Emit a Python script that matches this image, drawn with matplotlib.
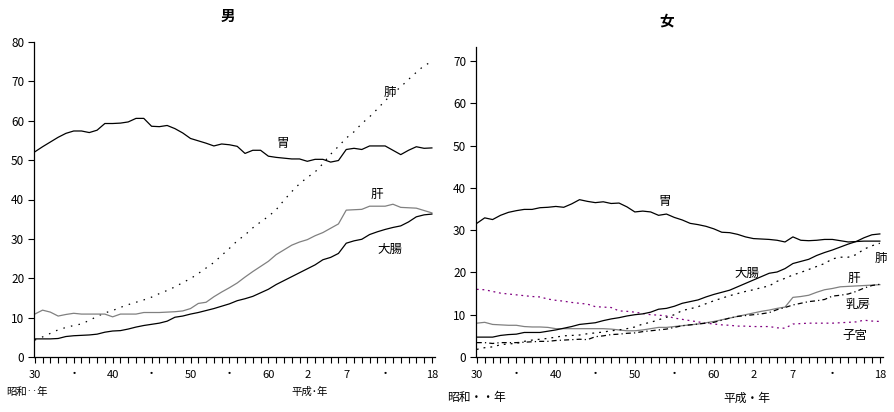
import matplotlib
matplotlib.use("Agg")
import matplotlib.pyplot as plt

plt.rcParams['font.family'] = ['Noto Sans CJK JP', 'DejaVu Sans']

years = list(range(1955, 2007))

# 男
m_stomach = [52.1, 53.4, 54.6, 55.8, 56.8, 57.4, 57.4, 57.0, 57.6, 59.3,
             59.3, 59.4, 59.7, 60.6, 60.6, 58.6, 58.5, 58.8, 58.0, 56.9,
             55.5, 54.9, 54.3, 53.6, 54.1, 53.9, 53.5, 51.7, 52.5, 52.5,
             51.0, 50.7, 50.5, 50.3, 50.3, 49.7, 50.2, 50.2, 49.5, 49.9,
             52.7, 53.0, 52.7, 53.6, 53.6, 53.6, 52.5, 51.4, 52.5, 53.4,
             53.0, 53.1]
m_lung = [4.3, 5.1, 6.0, 6.9, 7.5, 8.0, 8.4, 9.3, 10.3, 11.2,
          11.8, 12.6, 13.3, 13.9, 14.5, 15.2, 16.1, 16.9, 17.8, 18.9,
          19.9, 21.2, 22.6, 24.0, 25.8, 27.6, 29.5, 31.0, 32.8, 34.3,
          35.7, 37.4, 39.8, 42.0, 44.0, 45.6, 47.0, 49.1, 51.5, 53.5,
          55.6, 57.2, 59.3, 61.0, 63.0, 65.1, 66.9, 68.6, 70.5, 72.3,
          74.0, 75.0]
m_liver = [10.9, 11.9, 11.4, 10.4, 10.8, 11.1, 10.9, 10.9, 10.9, 10.9,
           10.2, 10.9, 10.9, 10.9, 11.3, 11.3, 11.3, 11.4, 11.5, 11.7,
           12.3, 13.6, 13.9, 15.3, 16.5, 17.6, 18.8, 20.3, 21.7, 23.0,
           24.3, 26.0, 27.2, 28.4, 29.2, 29.8, 30.8, 31.6, 32.7, 33.8,
           37.3, 37.4, 37.5, 38.3, 38.3, 38.3, 38.8, 38.0, 37.9, 37.8,
           37.2, 36.6]
m_colon = [4.6, 4.6, 4.6, 4.7, 5.2, 5.4, 5.5, 5.6, 5.8, 6.3,
           6.6, 6.7, 7.1, 7.6, 8.0, 8.3, 8.6, 9.1, 10.1, 10.4,
           10.9, 11.3, 11.8, 12.3, 12.9, 13.5, 14.3, 14.8, 15.4, 16.3,
           17.2, 18.4, 19.4, 20.4, 21.4, 22.4, 23.4, 24.7, 25.3, 26.3,
           28.9, 29.5, 29.9, 31.1, 31.8, 32.4, 32.9, 33.3, 34.3, 35.6,
           36.1, 36.3]

# 女
f_stomach = [31.6, 32.9, 32.5, 33.5, 34.2, 34.6, 34.9, 34.9, 35.3, 35.4,
             35.6, 35.4, 36.2, 37.2, 36.8, 36.5, 36.7, 36.3, 36.4, 35.5,
             34.3, 34.5, 34.3, 33.5, 33.8, 33.0, 32.4, 31.6, 31.3, 30.9,
             30.3, 29.5, 29.4, 29.0, 28.4, 28.0, 27.9, 27.8, 27.6, 27.2,
             28.4, 27.6, 27.5, 27.6, 27.8, 27.8, 27.5, 27.2, 27.3, 27.4,
             27.4, 27.4]
f_uterus = [16.0, 15.9, 15.5, 15.1, 14.9, 14.7, 14.5, 14.3, 14.2, 13.7,
            13.4, 13.2, 12.9, 12.7, 12.5, 11.9, 11.8, 11.7, 10.9, 10.8,
            10.6, 10.3, 10.0, 9.9, 9.7, 9.2, 8.9, 8.6, 8.3, 8.0,
            7.8, 7.6, 7.5, 7.3, 7.3, 7.2, 7.2, 7.2, 6.9, 6.8,
            7.8, 7.9, 8.0, 8.0, 8.0, 8.0, 8.1, 8.2, 8.3, 8.7,
            8.5, 8.4]
f_liver = [8.0, 8.2, 7.7, 7.6, 7.5, 7.5, 7.2, 7.1, 7.1, 7.0,
           6.7, 6.7, 6.7, 6.7, 6.7, 6.7, 6.7, 6.6, 6.4, 6.2,
           6.2, 6.4, 6.7, 7.0, 7.0, 7.2, 7.4, 7.6, 7.8, 8.1,
           8.4, 8.8, 9.2, 9.6, 10.0, 10.4, 10.8, 11.1, 11.5, 11.8,
           14.1, 14.3, 14.6, 15.3, 15.9, 16.2, 16.6, 16.7, 16.8, 16.9,
           17.0, 17.1]
f_colon = [4.7, 4.7, 4.7, 5.1, 5.3, 5.4, 5.8, 5.8, 5.8, 6.1,
           6.4, 6.8, 7.2, 7.7, 7.9, 8.1, 8.6, 9.0, 9.3, 9.7,
           10.0, 10.2, 10.6, 11.3, 11.5, 12.0, 12.7, 13.1, 13.5, 14.2,
           14.8, 15.3, 15.8, 16.6, 17.4, 18.2, 19.0, 19.8, 20.1, 20.9,
           22.1, 22.6, 23.1, 24.0, 24.7, 25.3, 26.0, 26.7, 27.3, 28.2,
           28.9, 29.1]
f_lung = [1.8, 2.2, 2.4, 2.9, 3.1, 3.2, 3.7, 4.0, 4.2, 4.4,
          4.7, 5.0, 5.1, 5.2, 5.5, 5.7, 5.9, 6.2, 6.4, 6.7,
          7.1, 7.8, 8.2, 8.8, 9.4, 10.0, 11.0, 11.4, 11.9, 12.6,
          13.3, 13.9, 14.5, 15.0, 15.5, 15.9, 16.4, 16.8, 17.9, 18.6,
          19.4, 20.0, 20.7, 21.4, 22.1, 23.2, 23.6, 23.6, 24.2, 25.5,
          26.3, 26.9]
f_breast = [3.4, 3.4, 3.2, 3.4, 3.4, 3.4, 3.5, 3.6, 3.7, 3.7,
            3.9, 4.0, 4.1, 4.2, 4.1, 4.8, 5.0, 5.3, 5.4, 5.6,
            5.7, 6.0, 6.2, 6.4, 6.6, 7.0, 7.4, 7.6, 7.8, 8.0,
            8.2, 8.7, 9.2, 9.6, 9.8, 10.0, 10.2, 10.5, 11.2, 11.7,
            12.3, 12.7, 13.1, 13.3, 13.6, 14.4, 14.6, 14.9, 15.5, 16.3,
            16.9, 17.2]

tick_years = [1955, 1960, 1965, 1970, 1975, 1980, 1985, 1990, 1995, 2000, 2006]
tick_labels = ['30', '・', '40', '・', '50', '・', '60', '2', '7', '・', '18']

fig = plt.figure(figsize=(8.94, 4.12), dpi=100)
W, H = 894, 412

def make_ax(x0, x1, ytop, ymax, yticks):
    ax = fig.add_axes([x0 / W, (H - 357) / H, (x1 - x0) / W, (357 - ytop) / H])
    ax.set_xlim(1954.9, 2006.4)
    ax.set_ylim(0, ymax)
    for s in ['top', 'right']:
        ax.spines[s].set_visible(False)
    for s in ['left', 'bottom']:
        ax.spines[s].set_linewidth(0.9)
    ax.set_xticks(years, minor=True)
    ax.set_xticks(tick_years)
    ax.set_xticklabels(tick_labels, fontsize=8)
    ax.tick_params(axis='x', which='both', direction='out', length=4, width=0.8, pad=5)
    ax.set_yticks(yticks)
    ax.tick_params(axis='y', direction='out', length=4, width=0.8, pad=3, labelsize=8.5)
    return ax

lw = 0.9
# Male
ax1 = make_ax(34, 435, 42, 80, list(range(0, 81, 10)))
ax1.plot(years, m_stomach, color='black', lw=lw)
ax1.plot(years, m_lung, color='black', lw=lw, linestyle=(0, (1.2, 5)))
ax1.plot(years, m_liver, color='#808080', lw=lw)
ax1.plot(years, m_colon, color='black', lw=lw)

fs = 9
ax1.text(2027 - 2027 + 1983.5, 0, '')
def lab(ax, x, y, s):
    fig.text(x / W, 1 - y / H, s, fontsize=fs, ha='center', va='center')

lab(ax1, 283, 143, '胃')
lab(ax1, 390, 92, '肺')
lab(ax1, 377, 194, '肝')
lab(ax1, 390, 249, '大腸')

# Female
ax2 = make_ax(476, 883, 47, 73.3, list(range(0, 71, 10)))
ax2.plot(years, f_stomach, color='black', lw=lw)
ax2.plot(years, f_uterus, color='#800080', lw=lw, linestyle=(0, (1.5, 3)))
ax2.plot(years, f_liver, color='#808080', lw=lw)
ax2.plot(years, f_colon, color='black', lw=lw)
ax2.plot(years, f_lung, color='black', lw=lw, linestyle=(0, (1.5, 4)))
ax2.plot(years, f_breast, color='black', lw=lw, linestyle=(0, (4, 2.5, 1, 2.5)))

lab(ax2, 665, 201, '胃')
lab(ax2, 747, 273, '大腸')
lab(ax2, 881, 258, '肺')
lab(ax2, 854, 278, '肝')
lab(ax2, 858, 304, '乳房')
lab(ax2, 855, 336, '子宮')

fig.text(228 / W, 1 - 16 / H, '男', fontsize=10.5, fontweight='bold', ha='center', va='center')
fig.text(667 / W, 1 - 20 / H, '女', fontsize=10.5, fontweight='bold', ha='center', va='center')

fig.text(6 / W, 1 - 392 / H, '昭和‥年', fontsize=7.5, ha='left', va='center')
fig.text(291 / W, 1 - 392 / H, '平成･年', fontsize=7.5, ha='left', va='center')
fig.text(447 / W, 1 - 398 / H, '昭和・・年', fontsize=8.5, ha='left', va='center')
fig.text(723 / W, 1 - 398 / H, '平成・年', fontsize=8.5, ha='left', va='center')

fig.savefig('out.png', dpi=100)
